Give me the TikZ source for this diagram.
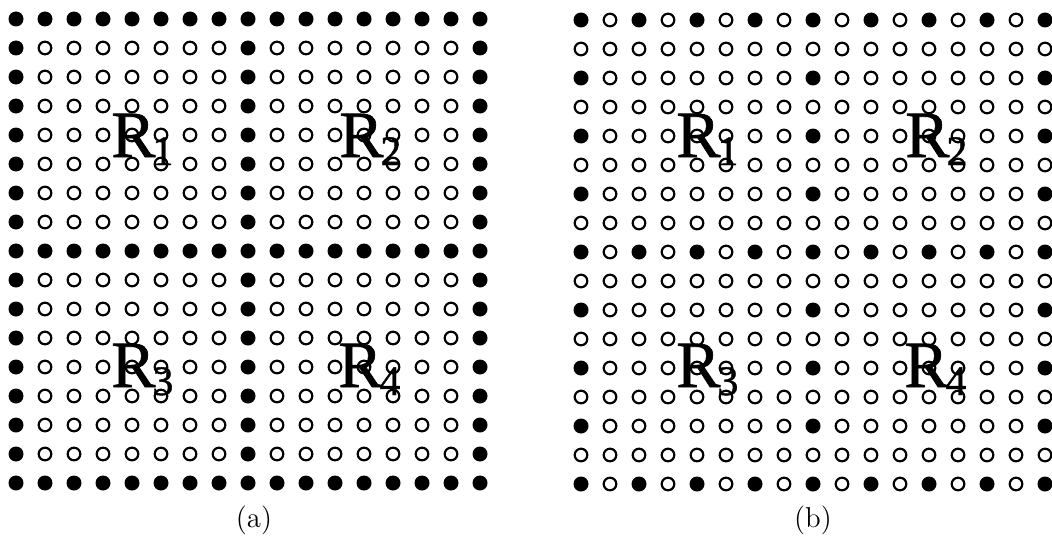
\documentclass[tikz,border=0pt]{standalone}
\usepackage{fontspec}
\newfontfamily\regionfont[FakeBold=1]{Liberation Serif}
\usetikzlibrary{positioning}

\newcommand{\regionlabel}[1]{R\kern-1.5pt\raisebox{-4pt}{\fontsize{21}{21}\selectfont #1}}

\begin{document}
\begin{tikzpicture}[
    x=0.5pt, y=-0.5pt,
    fulldot/.style={fill=black},
    opendot/.style={draw=black, line width=1.1pt, fill=white},
    region/.style={font=\regionfont\fontsize{33}{33}\selectfont,
                   inner sep=0pt, anchor=base west},
    caption/.style={font=\Large, inner sep=0pt, anchor=base},
]
\useasboundingbox (0,0) rectangle (1052,535);

% --- (a): filled border and middle cross ---
\foreach \i in {0,...,16}
  \foreach \j in {0,...,16} {
    \pgfmathtruncatemacro\isfull{(mod(\i,8)==0) || (mod(\j,8)==0)}
    \ifnum\isfull=1
      \fill[fulldot] (16+29*\i, 19+29*\j) circle[radius=7.5];
    \else
      \draw[opendot] (16+29*\i, 19+29*\j) circle[radius=6.3];
    \fi
  }

% --- (b): every other dot on the same lines ---
\foreach \i in {0,...,16}
  \foreach \j in {0,...,16} {
    \pgfmathtruncatemacro\isfull{((mod(\j,8)==0) && (mod(\i,2)==0)) || ((mod(\j,2)==0) && (mod(\i,8)==0))}
    \ifnum\isfull=1
      \fill[fulldot] (581+29*\i, 20+29*\j) circle[radius=7.5];
    \else
      \draw[opendot] (581+29*\i, 20+29*\j) circle[radius=6.3];
    \fi
  }

% --- region labels ---
\node[region] (r1a) at (111,157) {\regionlabel{1}};
\node[region] (r2a) at (339,157) {\regionlabel{2}};
\node[region] (r3a) at (111,387) {\regionlabel{3}};
\node[region] (r4a) at (338,387) {\regionlabel{4}};

\node[region] (r1b) at (676,157) {\regionlabel{1}};
\node[region] (r2b) at (905,157) {\regionlabel{2}};
\node[region] (r3b) at (676,387) {\regionlabel{3}};
\node[region] (r4b) at (904,387) {\regionlabel{4}};

% --- captions ---
\node[caption] (capa) at (254,527) {(a)};
\node[caption] (capb) at (813,527) {(b)};
\end{tikzpicture}
\end{document}
